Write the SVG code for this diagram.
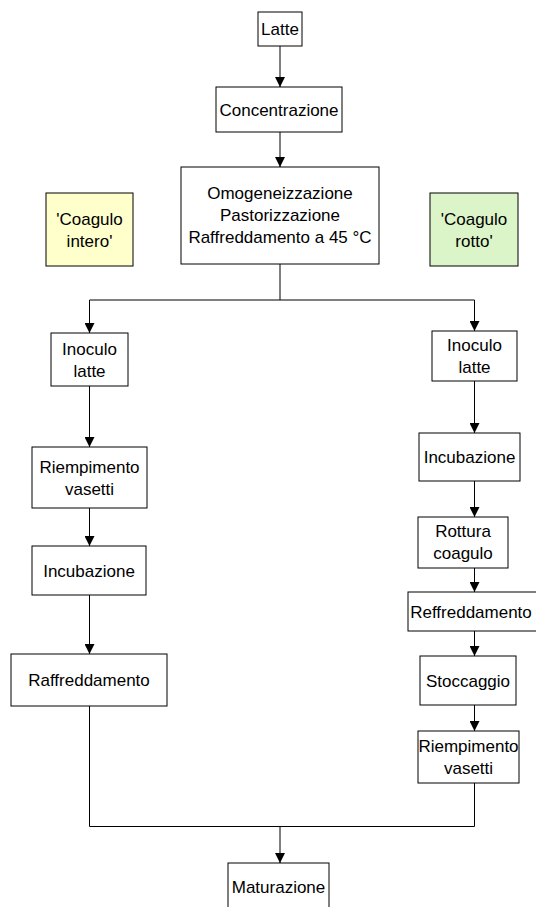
<svg xmlns="http://www.w3.org/2000/svg" width="536" height="907" viewBox="0 0 536 907">
<defs>
<marker id="arr" markerUnits="userSpaceOnUse" markerWidth="10" markerHeight="10" viewBox="0 0 10 10" refX="10" refY="5" orient="auto">
<path d="M0,0 L10,5 L0,10 z" fill="#000"/>
</marker>
<style>
.box{fill:#fff;stroke:#000;stroke-width:1}
.yel{fill:#FFFFCC;stroke:#000;stroke-width:1}
.grn{fill:#DCF5C8;stroke:#000;stroke-width:1}
text{font-family:"Liberation Sans",Arial,sans-serif;font-size:17px;fill:#000;text-anchor:middle}
.ln{fill:none;stroke:#000;stroke-width:1}
.ar{fill:none;stroke:#000;stroke-width:1;marker-end:url(#arr)}
</style>
</defs>
<rect width="536" height="907" fill="#fff"/>
<g id="connectors">
<line class="ar" x1="280" y1="46" x2="280" y2="87"/>
<line class="ar" x1="280" y1="132" x2="280" y2="167"/>
<line class="ln" x1="280" y1="264" x2="280" y2="300"/>
<polyline class="ar" points="280,300 89.5,300 89.5,333"/>
<polyline class="ar" points="280,300 474.5,300 474.5,331"/>
<line class="ar" x1="89.5" y1="386" x2="89.5" y2="447"/>
<line class="ar" x1="89.5" y1="508" x2="89.5" y2="546"/>
<line class="ar" x1="89.5" y1="595" x2="89.5" y2="654"/>
<line class="ar" x1="474.5" y1="381" x2="474.5" y2="433"/>
<line class="ar" x1="474.5" y1="481" x2="474.5" y2="517"/>
<line class="ar" x1="474.5" y1="568" x2="474.5" y2="592"/>
<line class="ar" x1="474.5" y1="631" x2="474.5" y2="656"/>
<line class="ar" x1="474.5" y1="705" x2="474.5" y2="731"/>
<polyline class="ln" points="89.5,706 89.5,826.5 474.5,826.5 474.5,783"/>
<line class="ar" x1="280" y1="826.5" x2="280" y2="863"/>
</g>
<g id="latte"><rect class="box" x="258" y="12" width="44" height="34"/><text x="280" y="35">Latte</text></g>
<g id="concentrazione"><rect class="box" x="216" y="87" width="126" height="45"/><text x="279" y="115.5">Concentrazione</text></g>
<g id="omogeneizzazione"><rect class="box" x="181" y="167" width="198" height="97"/>
<text x="280" y="199">Omogeneizzazione</text><text x="280" y="221">Pastorizzazione</text><text x="280" y="243">Raffreddamento a 45 °C</text></g>
<g id="coagulo-intero"><rect class="yel" x="46" y="193" width="87" height="73"/><text x="89.5" y="224.5">'Coagulo</text><text x="89.5" y="246.5">intero'</text></g>
<g id="coagulo-rotto"><rect class="grn" x="430" y="193" width="88" height="73"/><text x="474" y="224.5">'Coagulo</text><text x="474" y="246.5">rotto'</text></g>
<g id="inoculo-sx"><rect class="box" x="51" y="333" width="77" height="53"/><text x="89.5" y="354.5">Inoculo</text><text x="89.5" y="376.5">latte</text></g>
<g id="riempimento-sx"><rect class="box" x="32" y="447" width="115" height="61"/><text x="89.5" y="472.5">Riempimento</text><text x="89.5" y="494.5">vasetti</text></g>
<g id="incubazione-sx"><rect class="box" x="32" y="546" width="114" height="49"/><text x="89" y="576.5">Incubazione</text></g>
<g id="raffreddamento-sx"><rect class="box" x="11" y="654" width="156" height="52"/><text x="89" y="686">Raffreddamento</text></g>
<g id="inoculo-dx"><rect class="box" x="432" y="331" width="85" height="50"/><text x="474.5" y="350.5">Inoculo</text><text x="474.5" y="372.5">latte</text></g>
<g id="incubazione-dx"><rect class="box" x="419" y="433" width="101" height="48"/><text x="469.5" y="463">Incubazione</text></g>
<g id="rottura"><rect class="box" x="418" y="517" width="90" height="51"/><text x="463" y="536.5">Rottura</text><text x="463" y="558.5">coagulo</text></g>
<g id="reffreddamento-dx"><rect class="box" x="408" y="592" width="130" height="39"/><text x="471" y="617.5">Reffreddamento</text></g>
<g id="stoccaggio"><rect class="box" x="420" y="656" width="96" height="49"/><text x="468" y="686.5">Stoccaggio</text></g>
<g id="riempimento-dx"><rect class="box" x="418" y="731" width="101" height="52"/><text x="468.5" y="751.5">Riempimento</text><text x="468.5" y="773.5">vasetti</text></g>
<g id="maturazione"><rect class="box" x="228" y="863" width="101" height="50"/><text x="278.5" y="892.5">Maturazione</text></g>
</svg>
